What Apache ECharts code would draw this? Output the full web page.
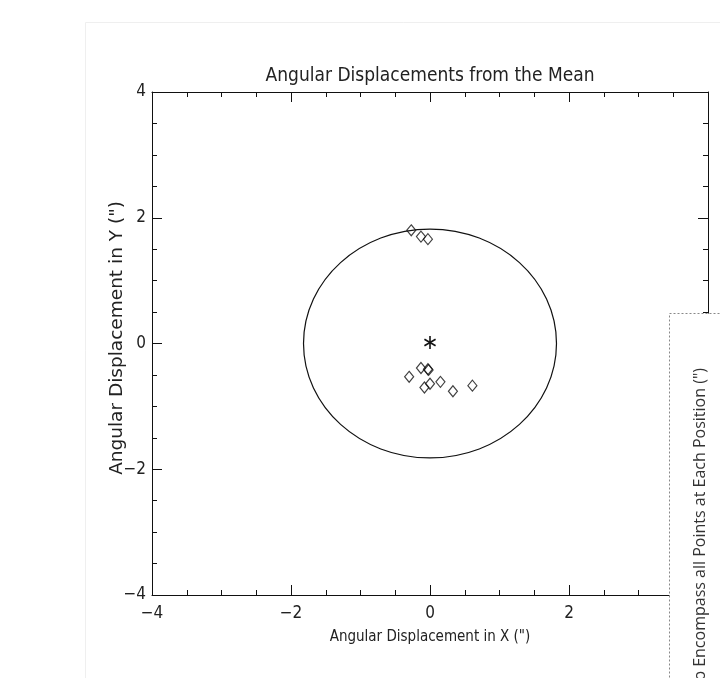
<!DOCTYPE html>
<html>
<head>
<meta charset="utf-8">
<script src="https://cdn.jsdelivr.net/npm/echarts@6/dist/echarts.min.js"></script>
<style>
html,body{margin:0;padding:0;background:#fff;}
#chart{width:720px;height:678px;}
</style>
</head>
<body>
<div id="chart"></div>
<script>
// ---- data ----
var titleText = 'Angular Displacements from the Mean';
var xName = 'Angular Displacement in X (")';
var yName = 'Angular Displacement in Y (")';
var axisMin = -4;
var axisMax = 4;
var axisInterval = 2;
var pointsX = [-0.27, -0.13, -0.03, -0.13, -0.03, -0.02, -0.30, -0.08, 0.00, 0.15, 0.33, 0.61];
var pointsY = [1.80, 1.70, 1.66, -0.39, -0.41, -0.42, -0.53, -0.70, -0.64, -0.61, -0.76, -0.67];
var meanPoint = [0, 0];
var circleRadius = 1.82;
var sideText = 'to Encompass all Points at Each Position (")';

var pts = pointsX.map(function (x, i) { return [x, pointsY[i]]; });

var FONT = '"DejaVu Sans Condensed", "DejaVu Sans", sans-serif';
var tickCommon = {
  axisLine: { show: true, onZero: false, lineStyle: { color: '#111', width: 1 } },
  axisTick: { show: true, inside: true, length: 10, lineStyle: { color: '#111', width: 1 } },
  minorTick: { show: true, splitNumber: 4, length: 5, lineStyle: { color: '#111', width: 1 } },
  splitLine: { show: false },
  min: axisMin, max: axisMax, interval: axisInterval
};
function ax(extra) { var o = {}; for (var k in tickCommon) o[k] = tickCommon[k]; for (var k2 in extra) o[k2] = extra[k2]; return o; }

var chart = echarts.init(document.getElementById('chart'));
chart.setOption({
  animation: false,
  backgroundColor: '#fff',
  title: {
    text: titleText, left: 425, top: 62, textAlign: 'center',
    textStyle: { fontFamily: FONT, fontSize: 19, fontWeight: 'normal', color: '#222' }
  },
  grid: { left: 152, top: 92, width: 556, height: 503 },
  xAxis: [
    ax({ type: 'value', position: 'bottom', name: xName, nameLocation: 'middle', nameGap: 35,
      nameTextStyle: { fontFamily: FONT, fontSize: 15, color: '#222' },
      axisLabel: { show: true, margin: 10, fontFamily: FONT, fontSize: 17, color: '#222',
        formatter: function (v) { return String(v).replace('-', '\u2212'); } } }),
    ax({ type: 'value', position: 'top', axisLabel: { show: false } })
  ],
  yAxis: [
    ax({ type: 'value', position: 'left',
      axisLabel: { show: true, margin: 6, fontFamily: FONT, fontSize: 17, color: '#222',
        formatter: function (v) { return String(v).replace('-', '\u2212'); } } }),
    ax({ type: 'value', position: 'right', axisLabel: { show: false } })
  ],
  series: [
    {
      type: 'custom',
      xAxisIndex: 0, yAxisIndex: 0,
      data: [[meanPoint[0], meanPoint[1], circleRadius]],
      renderItem: function (params, api) {
        var c = api.coord([api.value(0), api.value(1)]);
        var r = api.value(2);
        var e = api.coord([api.value(0) + r, api.value(1) - r]);
        return {
          type: 'ellipse',
          shape: { cx: c[0], cy: c[1], rx: e[0] - c[0], ry: e[1] - c[1] },
          style: { fill: 'none', stroke: '#111', lineWidth: 1.2 }
        };
      },
      silent: true, z: 2
    },
    {
      type: 'scatter',
      data: pts,
      symbol: 'diamond',
      symbolSize: [9, 11],
      itemStyle: { color: 'rgba(255,255,255,0)', borderColor: '#111', borderWidth: 1.2 },
      z: 3
    },
    {
      type: 'custom',
      xAxisIndex: 0, yAxisIndex: 0,
      data: [meanPoint],
      renderItem: function (params, api) {
        var c = api.coord([api.value(0), api.value(1)]);
        var s = 6.5, dx = 5.6, dy = 3.3;
        var st = { stroke: '#111', lineWidth: 1.6 };
        var cy = c[1] - 1;
        return {
          type: 'group',
          children: [
            { type: 'line', shape: { x1: c[0], y1: cy - s, x2: c[0], y2: cy + s }, style: st },
            { type: 'line', shape: { x1: c[0] - dx, y1: cy - dy, x2: c[0] + dx, y2: cy + dy }, style: st },
            { type: 'line', shape: { x1: c[0] - dx, y1: cy + dy, x2: c[0] + dx, y2: cy - dy }, style: st }
          ]
        };
      },
      silent: true, z: 3
    }
  ],
  graphic: [
    { type: 'rect', z: 0, silent: true, shape: { x: 85.5, y: 22.5, width: 700, height: 700 },
      style: { fill: 'none', stroke: '#efefef', lineWidth: 1 } },
    { type: 'text', z: 10, silent: true, x: 117, y: 338, rotation: Math.PI / 2,
      style: { text: yName, fontFamily: '"DejaVu Sans", sans-serif', fontSize: 18.5, fill: '#222',
        align: 'center', verticalAlign: 'middle' } },
    { type: 'rect', z: 100, silent: true, shape: { x: 669.5, y: 313.5, width: 100, height: 400 },
      style: { fill: '#fff', stroke: '#888', lineWidth: 1, lineDash: [2, 2] } },
    { type: 'text', z: 101, silent: true, x: 700, y: 368, rotation: Math.PI / 2,
      style: { text: sideText, fontFamily: '"Open Sans", sans-serif', fontSize: 16, fill: '#333',
        align: 'right', verticalAlign: 'middle' } }
  ]
});
</script>
</body>
</html>
